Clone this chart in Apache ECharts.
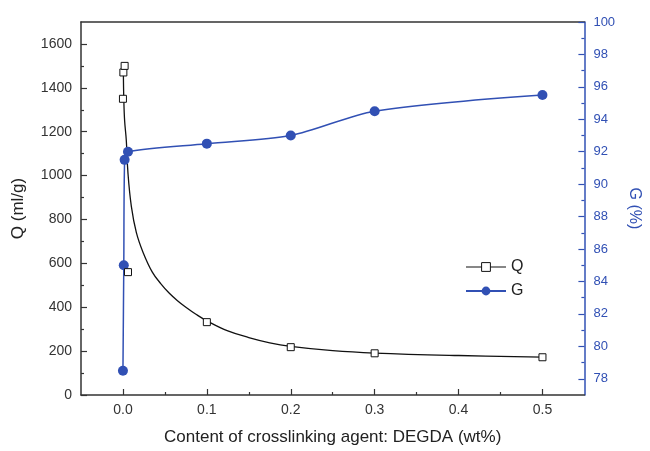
<!DOCTYPE html>
<html>
<head>
<meta charset="utf-8">
<script src="https://cdn.jsdelivr.net/npm/echarts@6/dist/echarts.min.js"></script>
<style>
    html, body { margin: 0; padding: 0; background: #fff; }
    #chart { width: 650px; height: 451px; }
</style>
</head>
<body>
<div id="chart"></div>
<script>
    // measured points, x = DEGDA content (wt%)
    var qPoints = [[0, 1350], [0.0005, 1470], [0.002, 1500], [0.006, 560], [0.1, 332], [0.2, 218], [0.3, 190], [0.5, 172]];
    var gPoints = [[0, 78.5], [0.001, 85], [0.002, 91.5], [0.006, 92], [0.1, 92.5], [0.2, 93], [0.3, 94.5], [0.5, 95.5]];
    // fitted curve through Q
    var qCurve = [[0.0005, 1470], [0.001, 1350], [0.002, 1250], [0.004, 1160], [0.006, 1010], [0.01, 860],
        [0.016, 740], [0.024, 650], [0.035, 560], [0.045, 508], [0.055, 465], [0.065, 430], [0.075, 400],
        [0.087, 368], [0.1, 338], [0.125, 292], [0.15, 262], [0.175, 238], [0.2, 222], [0.25, 202],
        [0.3, 191], [0.4, 180], [0.5, 173]];

    var xTicks = [0, 0.1, 0.2, 0.3, 0.4, 0.5];
    var xMinor = [0.05, 0.15, 0.25, 0.35, 0.45];
    var qTicks = [0, 200, 400, 600, 800, 1000, 1200, 1400, 1600];
    var qMinor = [100, 300, 500, 700, 900, 1100, 1300, 1500];
    var gTicks = [78, 80, 82, 84, 86, 88, 90, 92, 94, 96, 98, 100];
    var gMinor = [79, 81, 83, 85, 87, 89, 91, 93, 95, 97, 99];

    var black = '#333';
    var blue = '#3150b4';
    var font = 'Liberation Sans, Arial, sans-serif';

    function plain(v) { return String(v); }

    var chart = echarts.init(document.getElementById('chart'));

    var option = {
        animation: false,
        grid: { left: 81, right: 59, top: 22, bottom: 55 },
        legend: {
            orient: 'vertical',
            left: 460,
            top: 254,
            itemWidth: 40,
            itemHeight: 11,
            itemGap: 8,
            textStyle: { fontFamily: font, fontSize: 16, color: '#222' },
            data: [
                { name: 'Q', lineStyle: { color: '#111', width: 1.2, opacity: 1 }, itemStyle: { borderWidth: 1 } },
                { name: 'G' }
            ]
        },
        xAxis: [
            {
                type: 'value', min: -0.05, max: 0.55, position: 'bottom',
                name: 'Content of crosslinking agent: DEGDA (wt%)',
                nameLocation: 'middle', nameGap: 34,
                nameTextStyle: { fontFamily: font, fontSize: 17, color: '#222' },
                axisLine: { onZero: false, lineStyle: { color: black, width: 1.5 } },
                axisTick: { inside: true, length: 6, customValues: xTicks, lineStyle: { color: black, width: 1.2 } },
                axisLabel: {
                    customValues: xTicks, margin: 8, fontFamily: font, fontSize: 14, color: '#333',
                    formatter: function (v) { return v.toFixed(1); }
                },
                splitLine: { show: false }
            },
            {
                type: 'value', min: -0.05, max: 0.55, position: 'bottom',
                axisLine: { show: false, onZero: false },
                axisTick: { inside: true, length: 3, customValues: xMinor, lineStyle: { color: black, width: 1.2 } },
                axisLabel: { show: false },
                splitLine: { show: false }
            },
            {
                type: 'value', min: -0.05, max: 0.55, position: 'top',
                axisLine: { onZero: false, lineStyle: { color: black, width: 1.5 } },
                axisTick: { show: false },
                axisLabel: { show: false },
                splitLine: { show: false }
            }
        ],
        yAxis: [
            {
                type: 'value', min: 0, max: 1700, position: 'left',
                name: 'Q (ml/g)', nameLocation: 'middle', nameGap: 54,
                nameTextStyle: { fontFamily: font, fontSize: 17, color: '#222' },
                axisLine: { show: true, onZero: false, lineStyle: { color: black, width: 1.5 } },
                axisTick: { show: true, inside: true, length: 6, customValues: qTicks, lineStyle: { color: black, width: 1.2 } },
                axisLabel: { customValues: qTicks, margin: 9, fontFamily: font, fontSize: 14, color: '#333', formatter: plain },
                splitLine: { show: false }
            },
            {
                type: 'value', min: 0, max: 1700, position: 'left',
                axisLine: { show: false, onZero: false },
                axisTick: { show: true, inside: true, length: 3, customValues: qMinor, lineStyle: { color: black, width: 1.2 } },
                axisLabel: { show: false },
                splitLine: { show: false }
            },
            {
                type: 'value', min: 77, max: 100, position: 'right',
                name: 'G (%)', nameLocation: 'middle', nameGap: 38, nameRotate: -90,
                nameTextStyle: { fontFamily: font, fontSize: 16, color: blue },
                axisLine: { show: true, onZero: false, lineStyle: { color: blue, width: 1.5 } },
                axisTick: { show: true, inside: true, length: 6, customValues: gTicks, lineStyle: { color: blue, width: 1.2 } },
                axisLabel: { customValues: gTicks, margin: 9, fontFamily: font, fontSize: 13, color: blue, formatter: plain },
                splitLine: { show: false }
            },
            {
                type: 'value', min: 77, max: 100, position: 'right',
                axisLine: { show: false, onZero: false },
                axisTick: { show: true, inside: true, length: 3, customValues: gMinor, lineStyle: { color: blue, width: 1.2 } },
                axisLabel: { show: false },
                splitLine: { show: false }
            }
        ],
        series: [
            {
                name: 'Q fit',
                type: 'line',
                xAxisIndex: 0, yAxisIndex: 0,
                data: qCurve,
                smooth: 0.4,
                showSymbol: false,
                symbol: 'none',
                lineStyle: { color: '#111', width: 1.3 },
                z: 2
            },
            {
                name: 'Q',
                type: 'line',
                xAxisIndex: 0, yAxisIndex: 0,
                data: qPoints,
                symbol: 'rect',
                symbolSize: 7,
                itemStyle: { color: '#fff', borderColor: '#111', borderWidth: 1 },
                lineStyle: { color: '#111', width: 1.3, opacity: 0 },
                z: 4
            },
            {
                name: 'G',
                type: 'line',
                xAxisIndex: 0, yAxisIndex: 2,
                data: gPoints,
                smooth: 0.3,
                symbol: 'circle',
                symbolSize: 10,
                itemStyle: { color: blue },
                lineStyle: { color: blue, width: 1.5 },
                z: 3
            }
        ]
    };

    chart.setOption(option);
</script>
</body>
</html>
